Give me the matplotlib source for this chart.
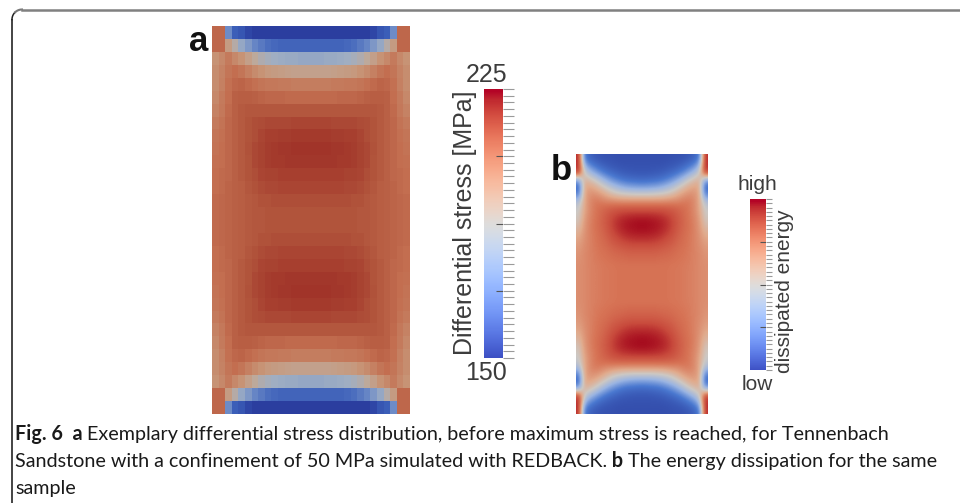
import numpy as np
import matplotlib
matplotlib.use("Agg")
import matplotlib.pyplot as plt
from matplotlib.cm import ScalarMappable
from matplotlib.colors import LinearSegmentedColormap, Normalize

W, H = 960, 503

# panel a, top left quarter of the mesh, outer edge -> centre (0 = low, 1 = high)
quarter_a = [
    [.82, .82, .30, .15, .12, .06, .03, .03, .03, .03, .03, .03, .03, .03, .03],
    [.82, .82, .62, .52, .42, .35, .28, .24, .20, .18, .17, .17, .17, .17, .17],
    [.66, .70, .75, .70, .66, .60, .55, .50, .47, .45, .44, .43, .43, .42, .42],
    [.68, .72, .77, .80, .77, .73, .69, .66, .63, .62, .61, .60, .59, .59, .59],
    [.68, .73, .79, .82, .83, .81, .79, .77, .76, .76, .75, .75, .74, .74, .74],
    [.70, .75, .80, .84, .85, .85, .84, .83, .82, .82, .82, .81, .81, .81, .81],
    [.72, .76, .81, .84, .86, .87, .87, .87, .87, .87, .87, .87, .87, .87, .87],
    [.75, .78, .82, .84, .86, .88, .90, .91, .92, .92, .92, .92, .93, .93, .93],
    [.77, .79, .82, .84, .86, .88, .90, .93, .95, .95, .96, .96, .97, .97, .97],
    [.78, .80, .82, .84, .86, .89, .92, .94, .96, .97, .98, .98, .99, .99, .99],
    [.79, .80, .82, .84, .86, .88, .92, .94, .96, .97, .97, .98, .98, .98, .98],
    [.80, .81, .82, .84, .86, .88, .90, .93, .94, .94, .95, .95, .95, .95, .95],
    [.80, .81, .83, .84, .85, .87, .89, .91, .92, .92, .93, .93, .93, .93, .93],
    [.81, .82, .83, .84, .85, .86, .87, .89, .89, .90, .90, .90, .90, .90, .90],
    [.81, .82, .83, .84, .85, .86, .87, .87, .88, .88, .88, .88, .88, .88, .88],
]

# panel b, same idea
quarter_b = [
    [.95, .20, .10, .06, .04, .03, .03, .02, .02, .02, .02, .02],
    [.95, .35, .22, .15, .10, .07, .05, .04, .03, .03, .03, .03],
    [.90, .50, .38, .30, .22, .16, .12, .09, .07, .06, .05, .05],
    [.35, .58, .54, .48, .40, .32, .25, .20, .16, .14, .13, .12],
    [.12, .62, .63, .60, .54, .48, .42, .37, .33, .30, .29, .28],
    [.20, .62, .68, .68, .65, .60, .55, .52, .50, .49, .48, .48],
    [.40, .62, .70, .74, .73, .71, .70, .69, .68, .68, .68, .68],
    [.48, .62, .70, .75, .78, .80, .82, .83, .84, .84, .84, .84],
    [.50, .64, .71, .75, .79, .83, .87, .90, .92, .93, .94, .94],
    [.53, .66, .72, .76, .80, .84, .89, .93, .96, .98, .99, 1.0],
    [.58, .67, .72, .76, .79, .83, .88, .92, .95, .97, .98, .99],
    [.62, .68, .72, .75, .78, .81, .85, .88, .91, .93, .94, .94],
    [.65, .69, .72, .75, .77, .79, .82, .84, .86, .87, .88, .88],
    [.67, .70, .72, .74, .76, .77, .79, .80, .81, .82, .82, .82],
    [.68, .70, .72, .74, .75, .76, .77, .78, .78, .79, .79, .79],
    [.69, .70, .72, .73, .74, .75, .75, .76, .76, .76, .76, .76],
    [.69, .70, .72, .73, .74, .75, .75, .76, .76, .76, .76, .76],
    [.69, .70, .72, .73, .74, .75, .75, .76, .76, .76, .76, .76],
]

stress_range = [150, 225]
stress_ticks = [168.75, 187.5, 206.25]
stress_label = "Differential stress [MPa]"
energy_range = [0, 1]
energy_ticks = [0.25, 0.5, 0.75]
energy_label = "dissipated energy"
caption = [
    [("Fig. 6", True), ("  a", True), (" Exemplary differential stress distribution, before maximum stress is reached, for Tennenbach", False)],
    [("Sandstone with a confinement of 50 MPa simulated with REDBACK.", False), (" b", True), (" The energy dissipation for the same", False)],
    [("sample", False)],
]

plt.rcParams['font.family'] = ['Liberation Sans', 'DejaVu Sans']

# muted colours of the blurry left picture
cmap_a = LinearSegmentedColormap.from_list("panel_a", [
    (0, "#28379a"), (.15, "#3c5fb9"), (.3, "#6e8cc8"), (.45, "#a0afc3"), (.55, "#bea99b"),
    (.65, "#c89678"), (.8, "#c36e50"), (.88, "#b2553c"), (1, "#a03228")])
# right picture is stronger, the orange sits lower on the scale
cmap_b = LinearSegmentedColormap.from_list("panel_b", [
    (0, "#324baa"), (.18, "#4a78d0"), (.35, "#9ab4e2"), (.5, "#cdc8c3"), (.62, "#e1aa8c"),
    (.76, "#d77355"), (.88, "#c84a3c"), (1, "#a50a1e")])

fig = plt.figure(figsize=(W / 100, H / 100), dpi=100)


def px_axes(x0, y0, x1, y1):
    return fig.add_axes([x0 / W, 1 - y1 / H, (x1 - x0) / W, (y1 - y0) / H])


def mirror(quarter):
    q = np.array(quarter)
    top = np.hstack([q, q[:, ::-1]])
    return np.vstack([top, top[::-1]])


def colour_bar(box, cmap, val_range, major, n_minor, minor_len):
    cax = px_axes(*box)
    norm = Normalize(*val_range)
    cb = fig.colorbar(ScalarMappable(norm=norm, cmap=cmap), cax=cax)
    cb.outline.set_visible(False)
    cb.solids.set_edgecolor("face")
    cax.set_yticks(np.linspace(val_range[0], val_range[1], n_minor))
    cax.tick_params(axis="y", length=minor_len, width=0.8, color="#9a9a9a", labelright=False, pad=0)
    cax.hlines(major, 0.65, 1, transform=cax.get_yaxis_transform(), color="#555555", lw=0.8)
    return cax


# panel a
ax_a = px_axes(212, 26, 410, 414)
ax_a.imshow(mirror(quarter_a), cmap=cmap_a, vmin=0, vmax=1, aspect="auto", interpolation="nearest")
ax_a.axis("off")

# panel b
ax_b = px_axes(576, 154, 708, 414)
ax_b.imshow(mirror(quarter_b), cmap=cmap_b, vmin=0, vmax=1, aspect="auto", interpolation="bicubic")
ax_b.axis("off")

colour_bar((484, 89, 503, 358), "coolwarm", stress_range, stress_ticks, 41, 8)
colour_bar((750, 199, 766, 370), "coolwarm", energy_range, energy_ticks, 41, 4.3)

# overlay in pixel coordinates for the texts and the box
ov = fig.add_axes([0, 0, 1, 1])
ov.set_xlim(0, W)
ov.set_ylim(H, 0)
ov.axis("off")
ov.patch.set_alpha(0)

ang = np.linspace(np.pi, 1.5 * np.pi, 30)
ov.plot(22 + 10 * np.cos(ang[:16]), 19.5 + 10 * np.sin(ang[:16]), color="#222222", lw=1.1)
ov.plot([12, 12], [19.5, H], color="#111111", lw=1.1)
ov.plot(22 + 10 * np.cos(ang[15:]), 19.5 + 10 * np.sin(ang[15:]), color="#777777", lw=1.5)
ov.plot([22, W], [9.5, 9.5], color="#808080", lw=1.8)

txt = "#3c3c3c"
ov.text(199, 41, "a", fontsize=25, fontweight="bold", color="#111111", ha="center", va="center")
ov.text(561, 171, "b", fontsize=25, fontweight="bold", color="#111111", ha="center", va="center")
ov.text(487, 75, str(stress_range[1]), fontsize=18, color=txt, ha="center", va="center")
ov.text(486, 373, str(stress_range[0]), fontsize=18, color=txt, ha="center", va="center")
ov.text(465, 223, stress_label, fontsize=18, color=txt, rotation=90, ha="center", va="center")
ov.text(757, 184, "high", fontsize=15, color=txt, ha="center", va="center")
ov.text(757, 385, "low", fontsize=15, color=txt, ha="center", va="center")
ov.text(785, 291, energy_label, fontsize=15, color=txt, rotation=90, ha="center", va="center")

# caption, bold and regular runs one after the other
renderer = fig.canvas.get_renderer()
for line, base in zip(caption, [440, 467, 494]):
    x = 15
    for run, bold in line:
        t = ov.text(x, base, run, fontsize=14.2, family="Lato", color="#1a1a1a",
                    fontweight="bold" if bold else "normal", va="baseline", ha="left")
        x = x + t.get_window_extent(renderer).width

fig.savefig("out.png", dpi=100)
